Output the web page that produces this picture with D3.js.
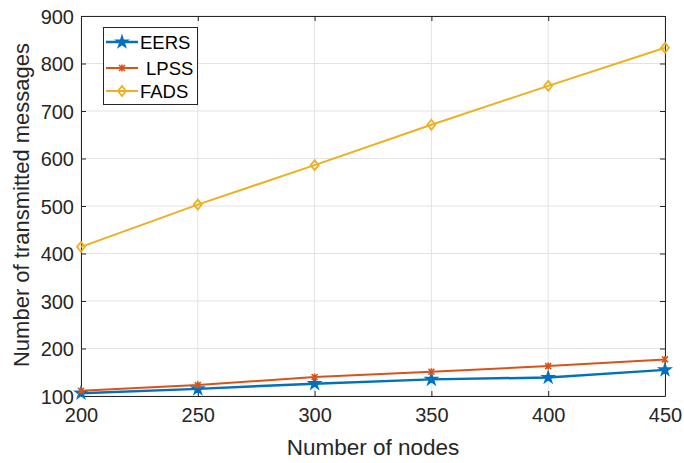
<!DOCTYPE html>
<html>
<head>
<meta charset="utf-8">
<script src="https://cdn.jsdelivr.net/npm/d3@7/dist/d3.min.js"></script>
<style>
  html, body { margin: 0; padding: 0; background: #fff; }
  svg { display: block; font-family: "Liberation Sans", Arial, sans-serif; }
</style>
</head>
<body>
<svg id="chart" width="684" height="463"></svg>
<script>
// Network size on the x axis
const nodes = [200, 250, 300, 350, 400, 450];

// Transmitted messages per scheme
const eers = [106, 115, 126, 135, 139, 155];
const lpss = [111, 123, 140, 151, 163, 177];
const fads = [414, 503, 586, 671, 753, 833];

const seriesNames = ["EERS", "LPSS", "FADS"];
const seriesColors = ["#0072BD", "#D95319", "#EDB120"];

const xTicks = [200, 250, 300, 350, 400, 450];
const yTicks = [100, 200, 300, 400, 500, 600, 700, 800, 900];

const svg = d3.select("#chart");
const m = { left: 81, right: 665, top: 16, bottom: 396 };

const x = d3.scaleLinear().domain([200, 450]).range([m.left, m.right]);
const y = d3.scaleLinear().domain([100, 900]).range([m.bottom, m.top]);

const axisColor = "#262626";
const gridColor = "#e3e3e3";

// Grid
const grid = svg.append("g");
grid.selectAll(".gx").data(xTicks).join("line")
  .attr("x1", d => x(d)).attr("x2", d => x(d))
  .attr("y1", m.top).attr("y2", m.bottom)
  .attr("stroke", gridColor).attr("stroke-width", 1);
grid.selectAll(".gy").data(yTicks).join("line")
  .attr("y1", d => y(d)).attr("y2", d => y(d))
  .attr("x1", m.left).attr("x2", m.right)
  .attr("stroke", gridColor).attr("stroke-width", 1);

// Axes (box with inward ticks on all four sides)
function styleAxis(g) {
  g.select(".domain").attr("stroke", axisColor).attr("stroke-width", 1);
  g.selectAll(".tick line").attr("stroke", axisColor).attr("stroke-width", 1);
  g.selectAll(".tick text").attr("fill", "#262626").attr("font-size", "20px");
}

const xAxis = svg.append("g").attr("transform", `translate(0,${m.bottom})`)
  .call(d3.axisBottom(x).tickValues(xTicks).tickSizeInner(-5).tickSizeOuter(0).tickPadding(12));
styleAxis(xAxis);

const xTop = svg.append("g").attr("transform", `translate(0,${m.top})`)
  .call(d3.axisTop(x).tickValues(xTicks).tickSizeInner(-5).tickSizeOuter(0).tickFormat(""));
styleAxis(xTop);

const yAxis = svg.append("g").attr("transform", `translate(${m.left},0)`)
  .call(d3.axisLeft(y).tickValues(yTicks).tickSizeInner(-5).tickSizeOuter(0).tickPadding(7));
styleAxis(yAxis);
yAxis.selectAll(".tick text").attr("dy", "0.36em");

const yRight = svg.append("g").attr("transform", `translate(${m.right},0)`)
  .call(d3.axisRight(y).tickValues(yTicks).tickSizeInner(-5).tickSizeOuter(0).tickFormat(""));
styleAxis(yRight);

// Axis titles
svg.append("text")
  .attr("x", (m.left + m.right) / 2).attr("y", 455)
  .attr("text-anchor", "middle").attr("font-size", "22.5px").attr("fill", "#262626")
  .text("Number of nodes");

svg.append("text")
  .attr("transform", `translate(29,${(m.top + m.bottom) / 2 - 1}) rotate(-90)`)
  .attr("text-anchor", "middle").attr("font-size", "22px").attr("fill", "#262626")
  .text("Number of transmitted messages");

// Series
const series = [eers, lpss, fads];
const widths = [2.5, 2, 2];
const line = d3.line().x((d, i) => x(nodes[i])).y(d => y(d));

const markerFns = [
  // filled six-pointed star
  (g, c) => g.append("path").attr("d", d3.symbol(d3.symbolStar, 40)()).attr("fill", c).attr("stroke", c).attr("stroke-width", 1.5),
  // small asterisk-like cross
  (g, c) => g.append("path").attr("d", "M-3,-3L3,3M-3,3L3,-3M0,-3.5L0,3.5").attr("fill", "none").attr("stroke", c).attr("stroke-width", 1.6),
  // open diamond
  (g, c) => g.append("path").attr("d", "M0,-5L4,0L0,5L-4,0Z").attr("fill", "none").attr("stroke", c).attr("stroke-width", 1.8)
];

series.forEach((vals, s) => {
  const c = seriesColors[s];
  svg.append("path").datum(vals)
    .attr("d", line).attr("fill", "none")
    .attr("stroke", c).attr("stroke-width", widths[s]);
  vals.forEach((v, i) => {
    const g = svg.append("g").attr("transform", `translate(${x(nodes[i])},${y(v)})`);
    markerFns[s](g, c);
  });
});

// Legend
const lg = svg.append("g");
lg.append("rect")
  .attr("x", 103.5).attr("y", 27.5).attr("width", 94).attr("height", 77)
  .attr("fill", "#fff").attr("stroke", axisColor).attr("stroke-width", 1);
const legendY = [42, 68, 91];
const legendTextX = [140, 146, 140];
seriesNames.forEach((name, s) => {
  const c = seriesColors[s];
  lg.append("line")
    .attr("x1", 106).attr("x2", 138).attr("y1", legendY[s]).attr("y2", legendY[s])
    .attr("stroke", c).attr("stroke-width", widths[s]);
  const g = lg.append("g").attr("transform", `translate(122,${legendY[s]})`);
  markerFns[s](g, c);
  lg.append("text")
    .attr("x", legendTextX[s]).attr("y", legendY[s]).attr("dy", "0.36em")
    .attr("font-size", "18.5px").attr("fill", "#000")
    .text(name);
});
</script>
</body>
</html>
